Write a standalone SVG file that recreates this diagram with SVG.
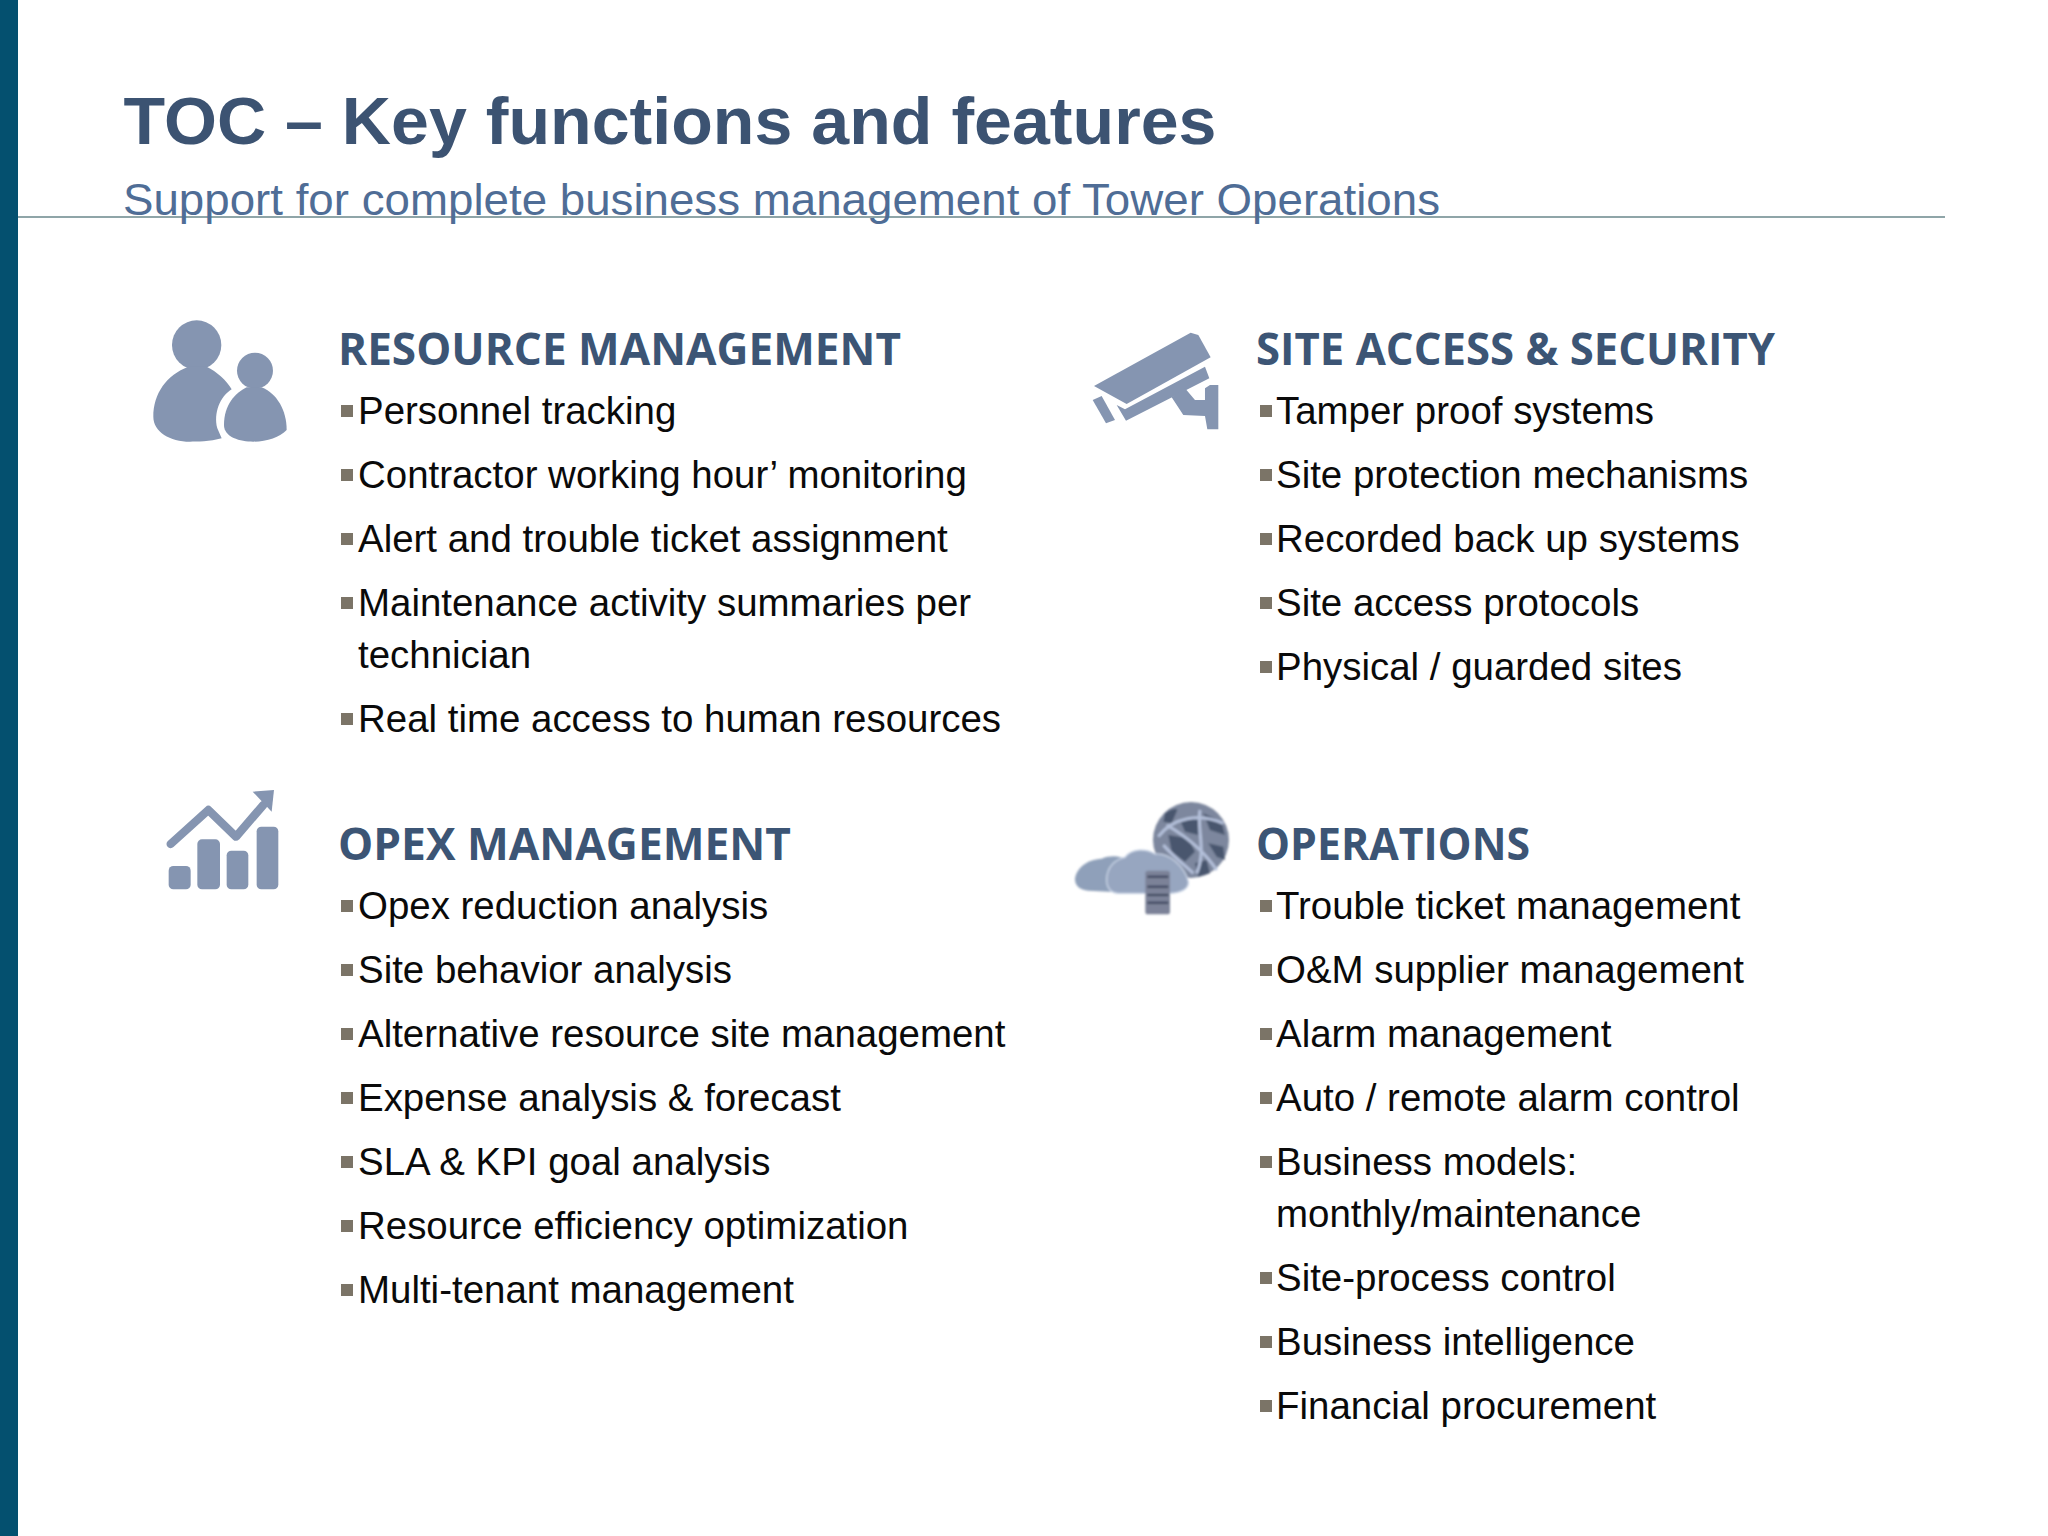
<svg xmlns="http://www.w3.org/2000/svg" width="2048" height="1536" viewBox="0 0 2048 1536">
<defs>
<style>
.b{font-family:"Liberation Sans",Arial,sans-serif;font-size:38.45px;fill:#0a0a0a}
.h{font-family:"Open Sans","Noto Sans",sans-serif;font-weight:700;font-size:44px;fill:#3c5575}
.i{fill:#8595b1}
</style>
<rect id="q" width="12" height="12" fill="#7b7467"/>
<filter id="s" x="-5%" y="-5%" width="110%" height="110%"><feGaussianBlur stdDeviation="2.5"/></filter>
</defs>
<rect width="2048" height="1536" fill="#fff"/>
<g id="frame">
<rect x="0" y="0" width="18" height="1536" fill="#04506f"/>
<rect x="18" y="216" width="1927" height="2" fill="#8fa5a8"/>
</g>
<g id="title">
<text x="123.5" y="144" font-family="'Liberation Sans',Arial,sans-serif" font-weight="700" font-size="67px" fill="#3c5372" textLength="1093" lengthAdjust="spacingAndGlyphs">TOC – Key functions and features</text>
<text x="123" y="215" font-family="'Liberation Sans',Arial,sans-serif" font-size="45px" fill="#4f6d96" textLength="1317" lengthAdjust="spacingAndGlyphs">Support for complete business management of Tower Operations</text>
</g>

<g id="icon-people" class="i" transform="translate(130,300) scale(.3333)">
<circle cx="200" cy="135" r="74"/><circle cx="375" cy="212" r="54"/>
<path d="M70 350C70 280 110 225 175 200L230 200C260 215 290 240 305 268C270 290 250 340 262 385L275 415C240 425 200 425 180 425C120 425 70 395 70 350Z"/>
<path d="M282 375C282 315 315 280 350 262L395 262C440 280 470 330 470 390C450 412 410 425 370 425C330 425 282 412 282 375Z"/>
</g>
<g id="icon-camera" class="i" transform="translate(1070,310) scale(.3333)">
<path d="M72 228L362 68L385 75L422 142L170 282Z"/>
<path d="M140 285L165 298L405 170L418 205L168 332Z"/>
<path d="M305 262L345 235L375 270L405 270L405 235L420 225L445 225L445 358L412 358L405 318L340 315Z"/>
<path d="M68 270L95 258L135 330L108 340Z"/>
</g>
<g id="icon-chart" class="i" transform="translate(150,770) scale(.3333)">
<path d="M62 222L175 120L258 200L340 105" fill="none" stroke="#8595b1" stroke-width="25" stroke-linejoin="round" stroke-linecap="round"/>
<path d="M308 65L372 60L365 125Z"/>
<rect x="56" y="288" width="66" height="70" rx="14"/>
<rect x="142" y="208" width="68" height="150" rx="14"/>
<rect x="230" y="242" width="65" height="116" rx="14"/>
<rect x="320" y="170" width="65" height="188" rx="14"/>
</g>
<g id="icon-cloud" transform="translate(1060,780) scale(.3333)">
<g filter="url(#s)">
<circle cx="393" cy="180" r="114" fill="#7d879e"/>
<path d="M315 100C335 85 350 85 352 90L335 130L310 125ZM360 120L415 115L415 165L375 155ZM430 100L485 125L495 165L450 150ZM325 165L385 175L405 215L375 245L335 215ZM405 250L440 240L450 280L415 290ZM445 190L490 200L495 240L470 230Z" fill="#4a566e"/>
<path d="M295 170C340 110 420 100 490 130M320 135C380 170 430 210 470 270M420 90C410 150 440 210 410 280M310 195C350 240 380 260 400 280" fill="none" stroke="#b4c0da" stroke-width="9"/>
<path d="M45 298C48 265 80 238 125 236C150 226 180 226 200 240L200 340L160 336L85 332C60 330 45 318 45 298Z" fill="#8fa0ba"/>
<path d="M140 300C140 262 165 238 195 232C215 205 260 205 285 222C330 218 375 262 385 305C388 332 350 342 310 340L175 340C155 340 140 325 140 300Z" fill="#97a6c0" stroke="#c9d4e6" stroke-width="4"/>
<rect x="256" y="272" width="74" height="131" rx="8" fill="#7b8298"/>
<path d="M262 290H325M262 320H325M262 345H325M262 368H325" stroke="#333c54" stroke-width="6"/>
</g>
</g>

<g id="resource-management">
<text class="h" x="338" y="365" textLength="563" lengthAdjust="spacingAndGlyphs">RESOURCE MANAGEMENT</text>
<use href="#q" x="341" y="405"/><text class="b" x="358" y="424">Personnel tracking</text>
<use href="#q" x="341" y="469"/><text class="b" x="358" y="488">Contractor working hour’ monitoring</text>
<use href="#q" x="341" y="533"/><text class="b" x="358" y="552">Alert and trouble ticket assignment</text>
<use href="#q" x="341" y="597"/><text class="b" x="358" y="616">Maintenance activity summaries per</text>
<text class="b" x="358" y="668">technician</text>
<use href="#q" x="341" y="713"/><text class="b" x="358" y="732">Real time access to human resources</text>
</g>
<g id="site-access-security">
<text class="h" x="1256" y="365" textLength="519" lengthAdjust="spacingAndGlyphs">SITE ACCESS &amp; SECURITY</text>
<use href="#q" x="1260" y="405"/><text class="b" x="1276" y="424">Tamper proof systems</text>
<use href="#q" x="1260" y="469"/><text class="b" x="1276" y="488">Site protection mechanisms</text>
<use href="#q" x="1260" y="533"/><text class="b" x="1276" y="552">Recorded back up systems</text>
<use href="#q" x="1260" y="597"/><text class="b" x="1276" y="616">Site access protocols</text>
<use href="#q" x="1260" y="661"/><text class="b" x="1276" y="680">Physical / guarded sites</text>
</g>
<g id="opex-management">
<text class="h" x="338" y="860" textLength="453" lengthAdjust="spacingAndGlyphs">OPEX MANAGEMENT</text>
<use href="#q" x="341" y="900"/><text class="b" x="358" y="919">Opex reduction analysis</text>
<use href="#q" x="341" y="964"/><text class="b" x="358" y="983">Site behavior analysis</text>
<use href="#q" x="341" y="1028"/><text class="b" x="358" y="1047">Alternative resource site management</text>
<use href="#q" x="341" y="1092"/><text class="b" x="358" y="1111">Expense analysis &amp; forecast</text>
<use href="#q" x="341" y="1156"/><text class="b" x="358" y="1175">SLA &amp; KPI goal analysis</text>
<use href="#q" x="341" y="1220"/><text class="b" x="358" y="1239">Resource efficiency optimization</text>
<use href="#q" x="341" y="1284"/><text class="b" x="358" y="1303">Multi-tenant management</text>
</g>
<g id="operations">
<text class="h" x="1256" y="860" textLength="274" lengthAdjust="spacingAndGlyphs">OPERATIONS</text>
<use href="#q" x="1260" y="900"/><text class="b" x="1276" y="919">Trouble ticket management</text>
<use href="#q" x="1260" y="964"/><text class="b" x="1276" y="983">O&amp;M supplier management</text>
<use href="#q" x="1260" y="1028"/><text class="b" x="1276" y="1047">Alarm management</text>
<use href="#q" x="1260" y="1092"/><text class="b" x="1276" y="1111">Auto / remote alarm control</text>
<use href="#q" x="1260" y="1156"/><text class="b" x="1276" y="1175">Business models:</text>
<text class="b" x="1276" y="1227">monthly/maintenance</text>
<use href="#q" x="1260" y="1272"/><text class="b" x="1276" y="1291">Site-process control</text>
<use href="#q" x="1260" y="1336"/><text class="b" x="1276" y="1355">Business intelligence</text>
<use href="#q" x="1260" y="1400"/><text class="b" x="1276" y="1419">Financial procurement</text>
</g>
</svg>
